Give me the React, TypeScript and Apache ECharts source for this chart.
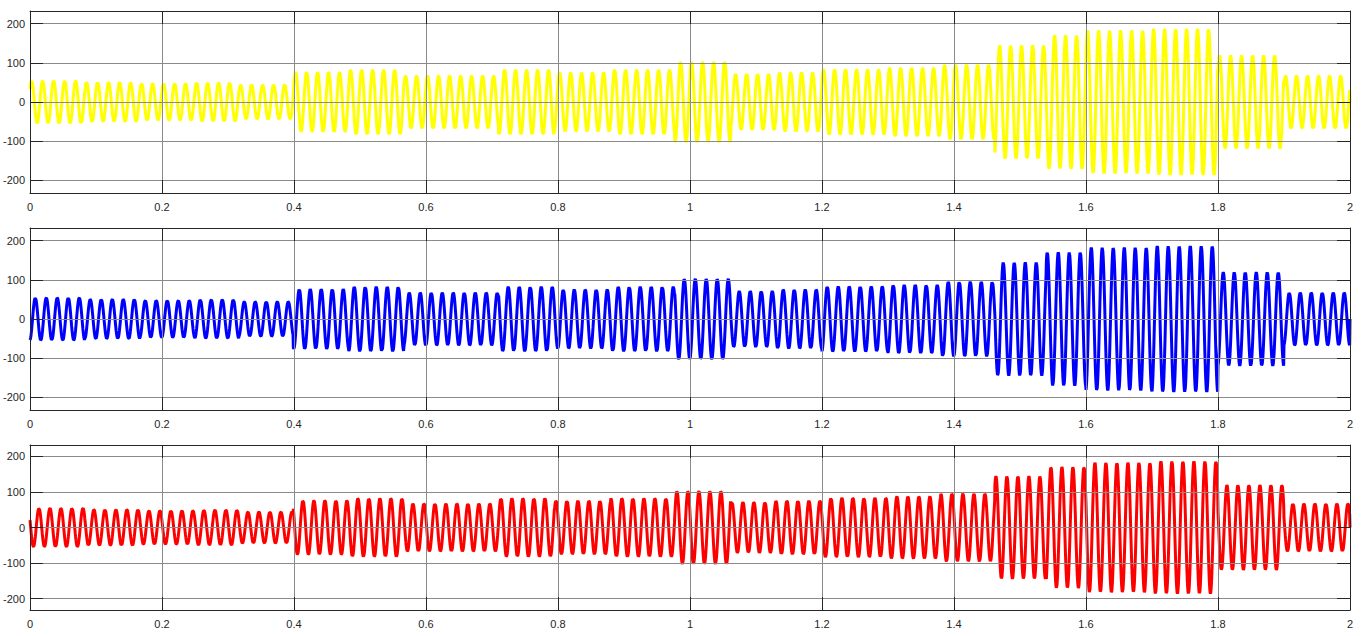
import React, { useEffect, useRef } from "react";
import * as echarts from "echarts";

// ---- data ----
const timeMin = 0;
const timeMax = 2;
const xTickStep = 0.2;
const yLimit = 232;
const yTickValues = [-200, -100, 0, 100, 200];
const frequencyHz = 60;
const sampleStep = 0.0005;

// amplitude envelope (peak value of each phase current) per time segment
const segmentStarts = [0, 0.083, 0.167, 0.25, 0.317, 0.399, 0.483, 0.567, 0.71, 0.795, 0.88, 0.977, 1.062, 1.13, 1.2, 1.3, 1.38, 1.462, 1.54, 1.6, 1.7, 1.8, 1.9];
const segmentEnds = [0.083, 0.167, 0.25, 0.317, 0.399, 0.483, 0.567, 0.71, 0.795, 0.88, 0.977, 1.062, 1.13, 1.2, 1.3, 1.38, 1.462, 1.54, 1.6, 1.7, 1.8, 1.9, 2.0];
const segmentAmps = [54, 50, 47, 49, 44, 76, 82, 67, 82, 75, 82, 102, 71, 75, 83, 87, 95, 144, 170, 182, 186, 119, 67];

const phaseNames = ["Ia", "Ib", "Ic"];
const phaseOffsetsDeg = [37.6, -82.4, 157.6];
const phaseColors = ["#FFFF00", "#0000FF", "#FF0000"];
// the recorded traces end on a zero sample at t = 2
const finalSampleValues = [0, 0, 0];

// panel layout
const gridTops = [11, 228, 445];
const gridHeights = [182, 182, 165];

function amplitudeAt(t: number): number {
  for (let i = 0; i < segmentStarts.length; i++) {
    if (t >= segmentStarts[i] && t < segmentEnds[i]) return segmentAmps[i];
  }
  return segmentAmps[segmentAmps.length - 1];
}

function buildPhase(offsetDeg: number, finalValue: number): [number, number][] {
  const out: [number, number][] = [];
  const n = Math.round((timeMax - timeMin) / sampleStep);
  const phi = (offsetDeg * Math.PI) / 180;
  for (let k = 0; k < n; k++) {
    const t = timeMin + k * sampleStep;
    out.push([t, amplitudeAt(t) * Math.sin(2 * Math.PI * frequencyHz * t + phi)]);
  }
  out.push([timeMax, finalValue]);
  return out;
}

const axisColor = "#262626";
const gridColor = "#8a8a8a";
const font = "'Liberation Sans', Arial, Helvetica, sans-serif";

export default function App() {
  const ref = useRef<HTMLDivElement>(null);
  useEffect(() => {
    if (!ref.current) return;
    const chart = echarts.init(ref.current, null, { renderer: "svg" });
    const grids: any[] = [];
    const xAxes: any[] = [];
    const yAxes: any[] = [];
    const series: any[] = [];
    phaseNames.forEach((name, i) => {
      grids.push({ left: 29, width: 1321, top: gridTops[i], height: gridHeights[i], show: false });
      const xBase = {
        gridIndex: i,
        type: "value",
        min: timeMin,
        max: timeMax,
        interval: xTickStep,
        z: 5,
        axisLine: { show: true, onZero: false, lineStyle: { color: axisColor, width: 1 } },
        axisTick: { show: true, inside: true, length: 13, lineStyle: { color: axisColor, width: 1 } },
      };
      xAxes.push({
        ...xBase,
        position: "bottom",
        axisLabel: {
          show: true,
          color: axisColor,
          fontSize: 11,
          fontFamily: font,
          margin: 8,
          formatter: (v: number) => String(Math.round(v * 10) / 10),
        },
        splitLine: { show: true, lineStyle: { color: gridColor, width: 1 } },
      });
      xAxes.push({
        ...xBase,
        position: "top",
        axisLabel: { show: false },
        splitLine: { show: false },
      });
      const yBase = {
        gridIndex: i,
        type: "value",
        min: -yLimit,
        max: yLimit,
        z: 5,
        axisLine: { show: true, onZero: false, lineStyle: { color: axisColor, width: 1 } },
        axisTick: { show: true, inside: true, length: 13, customValues: yTickValues, lineStyle: { color: axisColor, width: 1 } },
      };
      yAxes.push({
        ...yBase,
        position: "left",
        axisLabel: { show: true, customValues: yTickValues, color: axisColor, fontSize: 11, fontFamily: font, margin: 5 },
        splitLine: { show: true, lineStyle: { color: gridColor, width: 1 } },
      });
      yAxes.push({
        ...yBase,
        position: "right",
        axisLabel: { show: false },
        splitLine: { show: false },
      });
      series.push({
        name,
        type: "line",
        xAxisIndex: i * 2,
        yAxisIndex: i * 2,
        data: buildPhase(phaseOffsetsDeg[i], finalSampleValues[i]),
        showSymbol: false,
        symbol: "none",
        z: 2,
        lineStyle: { color: phaseColors[i], width: 3 },
        itemStyle: { color: phaseColors[i] },
      });
    });
    chart.setOption({
      animation: false,
      backgroundColor: "#ffffff",
      grid: grids,
      xAxis: xAxes,
      yAxis: yAxes,
      series,
    });
    return () => chart.dispose();
  }, []);
  return (
    <div
      ref={ref}
      style={{ position: "fixed", left: 0, top: 0, width: 1363, height: 636, background: "#fff" }}
    />
  );
}
